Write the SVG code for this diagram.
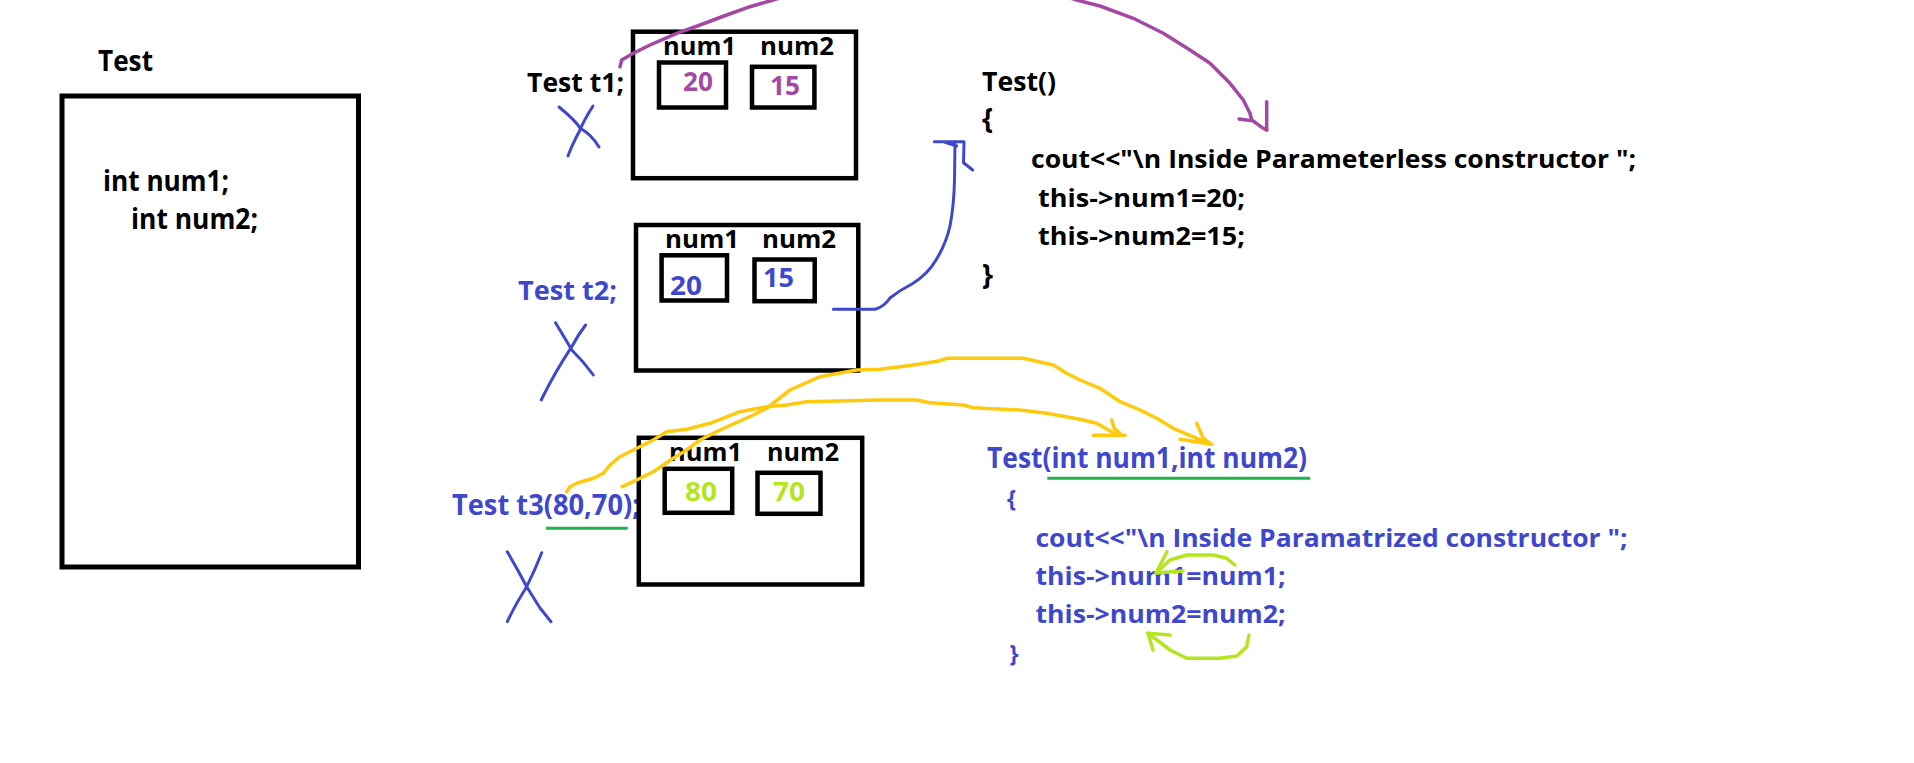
<svg xmlns="http://www.w3.org/2000/svg" width="1914" height="763" viewBox="0 0 1914 763">
<style>
.t{font-family:"Open Sans","Liberation Sans",sans-serif;font-weight:700;}
.k{fill:#000000;}
.b{fill:#3f48cc;}
.p{fill:#a349a4;}
.g{fill:#b5e61d;}
.box{fill:none;stroke:#000000;stroke-width:4.5;}
.big{fill:none;stroke:#000000;stroke-width:5;}
.pl{fill:none;stroke:#a349a4;stroke-width:3.5;stroke-linejoin:round;stroke-linecap:round;}
.bl{fill:none;stroke:#3f48cc;stroke-width:3;stroke-linejoin:round;stroke-linecap:round;}
.yl{fill:none;stroke:#ffc90e;stroke-width:3.5;stroke-linejoin:round;stroke-linecap:round;}
.gl{fill:none;stroke:#b5e61d;stroke-width:3.5;stroke-linejoin:round;stroke-linecap:round;}
.ul{fill:none;stroke:#22b14c;stroke-width:3;}
</style>
<rect width="1914" height="763" fill="#ffffff"/>

<g id="class-test">
<text class="t k" x="98" y="71" font-size="28" textLength="55" lengthAdjust="spacingAndGlyphs">Test</text>
<rect class="big" x="62" y="96" width="296.5" height="471"/>
<text class="t k" x="103" y="191" font-size="28" textLength="126" lengthAdjust="spacingAndGlyphs">int num1;</text>
<text class="t k" x="131" y="229" font-size="28" textLength="127" lengthAdjust="spacingAndGlyphs">int num2;</text>
</g>

<g id="object-t1">
<text class="t k" x="527" y="92" font-size="27" textLength="97" lengthAdjust="spacingAndGlyphs">Test t1;</text>
<rect class="box" x="633" y="31.7" width="223" height="146.5"/>
<text class="t k" x="663" y="55" font-size="25" textLength="73" lengthAdjust="spacingAndGlyphs">num1</text>
<text class="t k" x="760" y="55" font-size="25" textLength="74" lengthAdjust="spacingAndGlyphs">num2</text>
<rect class="box" x="659" y="62.5" width="67" height="45"/>
<rect class="box" x="752" y="66.8" width="62.4" height="40.7"/>
<text class="t p" x="683" y="91" font-size="27" textLength="30" lengthAdjust="spacingAndGlyphs">20</text>
<text class="t p" x="770" y="95" font-size="27" textLength="30" lengthAdjust="spacingAndGlyphs">15</text>
</g>

<g id="object-t2">
<text class="t b" x="518" y="300" font-size="27" textLength="99" lengthAdjust="spacingAndGlyphs">Test t2;</text>
<rect class="box" x="636" y="225" width="222.3" height="145.5"/>
<text class="t k" x="665" y="248" font-size="25" textLength="74" lengthAdjust="spacingAndGlyphs">num1</text>
<text class="t k" x="762" y="248" font-size="25" textLength="74" lengthAdjust="spacingAndGlyphs">num2</text>
<rect class="box" x="661.6" y="255.3" width="65.4" height="45.2"/>
<rect class="box" x="754.5" y="259.5" width="60.2" height="41.7"/>
<text class="t b" x="670" y="295" font-size="27" textLength="32" lengthAdjust="spacingAndGlyphs">20</text>
<text class="t b" x="763" y="287" font-size="27" textLength="31" lengthAdjust="spacingAndGlyphs">15</text>
</g>

<g id="object-t3">
<text class="t b" x="452" y="515" font-size="28" textLength="188" lengthAdjust="spacingAndGlyphs">Test t3(80,70);</text>
<rect class="box" x="638.8" y="437.8" width="223.4" height="146.7"/>
<text class="t k" x="669" y="461" font-size="25" textLength="73" lengthAdjust="spacingAndGlyphs">num1</text>
<text class="t k" x="767" y="461" font-size="25" textLength="72" lengthAdjust="spacingAndGlyphs">num2</text>
<rect class="box" x="664.7" y="468.8" width="67.5" height="44"/>
<rect class="box" x="757.5" y="472.8" width="63" height="41"/>
<text class="t g" x="685" y="501" font-size="27" textLength="32" lengthAdjust="spacingAndGlyphs">80</text>
<text class="t g" x="773" y="501" font-size="27" textLength="32" lengthAdjust="spacingAndGlyphs">70</text>
</g>

<g id="ctor-default">
<text class="t k" x="982" y="91" font-size="27" textLength="74" lengthAdjust="spacingAndGlyphs">Test()</text>
<text class="t k" x="982" y="129" font-size="28">{</text>
<text class="t k" x="1031" y="168" font-size="25" textLength="605" lengthAdjust="spacingAndGlyphs">cout&lt;&lt;"\n Inside Parameterless constructor ";</text>
<text class="t k" x="1038" y="207" font-size="25" textLength="207" lengthAdjust="spacingAndGlyphs">this-&gt;num1=20;</text>
<text class="t k" x="1038" y="245" font-size="25" textLength="207" lengthAdjust="spacingAndGlyphs">this-&gt;num2=15;</text>
<text class="t k" x="982" y="285" font-size="28">}</text>
</g>

<g id="ctor-param">
<text class="t b" x="987" y="468" font-size="28" textLength="320" lengthAdjust="spacingAndGlyphs">Test(int num1,int num2)</text>
<text class="t b" x="1007" y="507" font-size="23">{</text>
<text class="t b" x="1035.5" y="547" font-size="25" textLength="592" lengthAdjust="spacingAndGlyphs">cout&lt;&lt;"\n Inside Paramatrized constructor ";</text>
<text class="t b" x="1035.5" y="585" font-size="25" textLength="250" lengthAdjust="spacingAndGlyphs">this-&gt;num1=num1;</text>
<text class="t b" x="1035.5" y="623" font-size="25" textLength="250" lengthAdjust="spacingAndGlyphs">this-&gt;num2=num2;</text>
<text class="t b" x="1009.6" y="662" font-size="23">}</text>
</g>

<g id="connectors">
<!-- X marks -->
<path class="bl" d="M559,107 Q575,120 580,128 Q592,135 599,147 M593,106 Q584,120 580,130 Q572,145 568,156"/>
<path class="bl" d="M555.5,322.7 Q566,340 571.8,350 Q584,362 593.3,375 M585.6,325 Q578,335 571.8,346.7 Q555,372 541.2,400"/>
<path class="bl" d="M507.3,551.7 Q518,570 526.7,586.7 Q535,600 540,608 L551,621.7 M541.7,552.7 Q535,570 526.7,586.7 Q515,605 507.3,621.7"/>
<!-- purple: t1 to Test() -->
<path class="pl" d="M620,66.7 L621.7,60 L633.3,53.3 L650,45 L676.7,33.3 L700,25 L726.7,15 L750,6.7 L773.3,0 C850,-24 1000,-24 1076.7,0 L1100,6 L1133.3,18.3 L1163.3,33.3 L1190,50 L1210,63.3 L1230,83.3 L1243.3,100 L1250,113.3 L1251.7,120 L1263.3,128.3 L1266.7,130"/>
<path class="pl" d="M1266.7,101.7 L1266.7,130 M1239,119 L1250,120.5"/>
<!-- blue: t2 to Test() -->
<path class="bl" d="M833.3,309.3 L875,309.3 Q884,307 890,298 Q900,290 912,284 Q928,274 936,260 Q946,244 950,226 Q954,205 954.5,180 L955,142"/>
<path class="bl" d="M934.3,141.7 L964,141.7 L963.5,162.7 L972.7,170 M945,142.3 L956.7,146"/>
<!-- yellow: 80 -> int num1 -->
<path class="yl" d="M566.7,491.7 L570,486.7 L576.7,483.3 L593.3,478.3 L603.3,473.3 L610,465 L620,456.7 L633.3,450 L653.3,440 L666.7,431.7 L686.7,429.3 L710,423.3 L740,411.7 L753.3,409.3 L766.7,406.7 L786.7,405 L806.7,401.7 L880,400 L916.7,400 L930,402.7 L963.3,405 L973.3,407.7 L1020,410 L1046.7,413.3 L1080,419.3 L1096.7,423.3 L1113.3,432.7 L1120,435"/>
<path class="yl" d="M1093.3,435.3 L1125,435.3 M1111.7,420 L1114,428 L1120,433.3"/>
<!-- yellow: 70 -> int num2 -->
<path class="yl" d="M622.3,486.7 L636.7,480 L653.3,471.7 L673.3,458.3 L686.7,450 L700,440 L720,430 L753.3,415 L766.7,408.3 L790,390 L820,376.7 L856.7,370 L880,369.3 L900,366.7 L920,364 L940,360.7 L946.7,358.3 L1023.3,358.3 L1053.3,365 L1066.7,373.3 L1080,380 L1100,388.3 L1120,401.7 L1140,410 L1156.7,418.3 L1173.3,428.3 L1196.7,438.3 L1211.7,444.3"/>
<path class="yl" d="M1180,439.3 L1211.7,444.3 M1196.7,423.3 L1203.3,438.3 L1211.7,444.3"/>
<!-- green underlines -->
<path class="ul" d="M546,528.3 L627.7,528.3"/>
<path class="ul" d="M1047.3,478.3 L1310.2,478.3"/>
<!-- green-yellow arrows -->
<path class="gl" d="M1235,565 L1226.7,558.3 L1213.3,555 L1186.7,555 L1170,560 L1156,573"/>
<path class="gl" d="M1167,551.7 L1156,573 L1183,571"/>
<path class="gl" d="M1249,635 L1246.7,646.7 L1236.7,656 L1220,658.3 L1186.7,658.3 L1170,650 L1157,640 L1148,633.3"/>
<path class="gl" d="M1153,650 L1148,633.3 L1170,635"/>
</g>
</svg>
